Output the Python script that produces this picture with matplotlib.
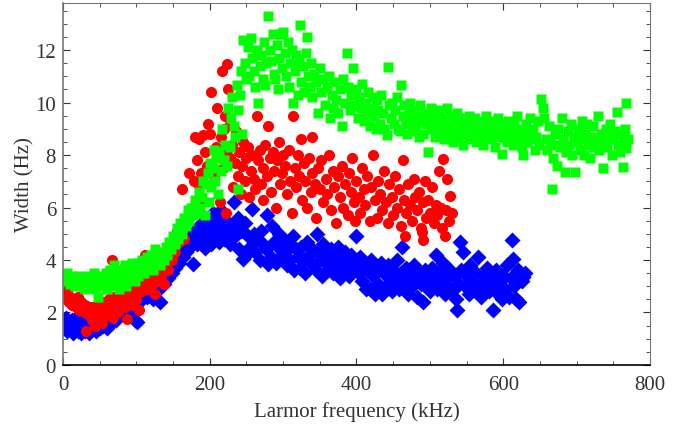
import numpy as np
import matplotlib.pyplot as plt
from matplotlib.ticker import MultipleLocator

# blue diamonds (x in kHz, width in Hz)
blue = [(2,1.5),(4,1.8),(5,1.3),(8,1.6),(10,1.4),(12,1.7),(14,1.2),(16,1.5),(18,1.8),(20,1.3),(22,1.6),
        (24,1.2),(26,1.5),(28,1.7),(30,1.3),(32,1.5),(35,1.2),(38,1.6),(40,1.4),(42,1.8),(45,1.3),(48,1.6),
        (50,1.4),(52,1.9),(55,1.5),(58,1.7),(60,1.4),
        (62,2.0),(65,1.6),(68,1.8),(70,2.1),(72,1.7),(75,2.2),(78,1.9),(80,2.0),(83,2.3),(85,1.9),(88,2.4),
        (90,2.1),(93,2.5),(95,2.2),(98,1.7),(101,1.64),(100,2.6),(103,2.4),(105,2.8),(108,2.5),(110,2.7),
        (113,3.0),(115,2.6),(118,2.9),(120,3.1),(122,2.5),(125,3.2),(128,2.8),(130,3.3),
        (132,2.4),(135,3.4),(138,3.1),(140,3.6),(143,3.3),(145,3.8),(148,3.5),(150,4.0),(153,3.7),(155,4.2),
        (158,3.9),(160,4.4),(163,4.1),(165,4.6),(168,4.3),(170,4.8),(173,4.5),(177,3.85),(178,4.9),(180,5.1),
        (183,4.6),(185,5.3),(188,4.8),(190,5.4),(193,4.46),(195,5.0),(198,5.6),(200,5.2),
        (202,4.6),(205,5.8),(208,5.0),(210,5.5),(212,4.7),(215,5.9),(218,5.2),(220,4.8),(222,5.5),(225,5.0),
        (228,4.6),(230,5.3),(233,6.2),(235,4.9),(238,5.6),(240,4.4),(242,5.1),(245,4.05),(248,5.4),(250,4.2),
        (252,4.9),(255,4.5),(258,5.95),(260,5.0),(262,4.3),(265,4.8),(268,4.0),(270,5.1),(272,4.6),(278,5.7),
        (276,4.4),(280,3.85),(283,4.1),(285,5.3),(288,4.7),(290,3.9),(293,4.5),(295,5.0),(298,4.2),(300,4.8),
        (302,4.3),(305,3.8),(308,4.6),(310,4.0),(313,4.9),(315,3.6),(318,4.4),(320,4.1),(323,3.7),(325,4.5),
        (328,4.0),(330,3.5),(333,4.7),(335,4.2),(338,3.9),(340,4.4),(346,5.0),(345,3.6),(348,4.3),(350,4.0),
        (353,3.4),(355,4.6),(358,3.9),(360,4.2),(363,3.7),(365,4.4),(368,3.5),(370,4.1),(373,3.8),(375,4.5),
        (378,3.3),(380,4.0),(383,3.6),(385,4.3),(388,3.9),(390,3.4),(393,4.2),(395,3.7),(400,4.9),(398,3.8),
        (403,3.5),(405,4.1),(408,3.2),(410,3.8),(413,2.9),(415,3.6),(418,2.9),(420,4.0),(423,3.4),(425,2.7),
        (428,3.7),(430,3.1),(433,3.9),(435,2.7),(438,3.5),(440,3.0),(443,3.8),(445,3.3),(448,2.8),(450,3.6),
        (453,3.2),(455,4.0),(458,2.9),(460,3.5),(462,4.5),(465,3.1),(468,3.7),(470,2.7),(473,3.4),(475,3.0),
        (478,3.8),(480,3.2),(483,2.6),(485,3.5),(488,3.1),(490,2.4),(493,3.6),(495,3.0),(498,3.4),(500,2.8),
        (503,3.7),(505,3.2),(508,4.2),(510,2.9),(513,3.5),(515,3.1),(518,3.9),(520,2.7),(523,3.3),(525,3.0),
        (528,3.6),(530,2.8),(533,3.4),(535,2.5),(537,2.1),(540,3.1),(541,4.7),(543,3.6),(545,4.3),(548,3.0),
        (550,3.4),(553,2.7),(555,3.8),(558,3.2),(560,2.9),(563,3.5),(565,4.1),(568,3.0),(570,2.6),(573,3.4),
        (575,3.1),(578,3.7),(580,2.8),(583,3.3),(586,2.1),(588,3.0),(590,3.6),(593,2.7),(595,3.2),(598,2.5),
        (600,3.4),(603,2.9),(605,3.8),(608,2.6),(610,3.3),(612,4.75),(614,4.05),(615,3.0),(618,2.5),(620,3.6),
        (622,2.4),(625,3.2),(627,3.35),(630,3.5)]

# red circles
red = [(2,2.7),(4,2.5),(6,2.8),(8,2.4),(10,2.6),(12,2.3),(15,2.5),(18,2.2),(20,2.6),(22,2.1),(25,2.4),
       (28,2.0),(30,2.3),(32,1.3),(35,1.9),(38,2.2),(40,1.7),(42,2.0),(44,1.5),(46,2.3),(48,1.8),(50,2.1),
       (53,1.6),(55,2.4),(58,2.0),(60,1.9),(62,2.5),(65,2.2),(67,4.0),(68,1.8),(70,2.6),(72,2.3),(75,2.0),
       (78,2.7),(80,2.4),(83,3.7),(85,2.2),(87,1.75),(88,2.8),(90,2.5),(93,2.9),(95,2.3),(98,2.7),(100,2.5),
       (103,2.1),(105,3.0),(108,2.8),(110,3.2),(112,4.2),(115,2.9),(118,3.3),(120,3.0),(123,3.5),(125,2.7),
       (128,3.2),(130,3.6),(133,3.4),(135,3.8),(138,3.1),(140,3.9),(143,3.6),(145,4.2),(148,4.0),(150,4.5),
       (153,4.3),(155,5.1),(158,4.7),(160,5.0),(162,6.7),(165,4.8),(167,5.6),(170,5.5),(172,7.3),(174,5.8),
       (176,6.0),(178,7.0),(180,8.7),(182,7.8),(184,6.9),(186,8.6),(188,7.3),(190,6.3),(191,8.75),(194,8.1),
       (196,7.6),(198,9.2),(200,8.8),(202,10.4),(206,7.2),(208,8.3),(210,9.8),(212,8.0),(214,6.2),(217,11.2),
       (216,8.7),(218,7.5),(220,9.0),(221,9.5),(222,5.8),(224,11.46),(225,10.5),(224,8.2),(227,9.2),(228,7.9),
       (230,8.4),(232,6.8),(234,7.7),(236,8.9),(238,7.2),(240,8.1),(242,6.5),(244,7.6),(246,8.5),(248,7.0),
       (250,7.9),(252,8.3),(254,6.4),(256,7.4),(258,8.0),(260,7.1),(262,6.7),(264,9.5),(266,7.8),(268,8.2),
       (270,6.9),(272,7.5),(273,6.3),(275,8.4),(278,7.2),(280,9.1),(282,7.9),(284,6.6),(286,8.1),(288,7.4),
       (290,6.0),(292,7.8),(294,8.5),(296,6.9),(298,7.3),(300,8.0),(302,7.6),(305,6.5),(308,8.2),(310,7.0),
       (312,5.8),(314,9.5),(316,7.5),(318,6.8),(320,8.0),(322,7.2),(324,8.6),(326,6.3),(328,7.7),(330,7.0),
       (332,6.0),(335,7.9),(338,6.6),(339,8.7),(340,7.3),(343,6.9),(345,5.6),(348,7.5),(350,6.7),(352,7.8),
       (355,6.2),(358,7.1),(360,6.5),(362,8.0),(365,5.9),(368,7.4),(370,6.8),(372,5.4),(375,7.2),(378,6.4),
       (380,7.6),(382,6.0),(385,6.9),(388,5.7),(390,7.3),(392,6.6),(394,7.9),(396,6.2),(398,5.5),(400,7.0),
       (403,6.4),(405,5.8),(408,7.5),(410,6.7),(412,6.1),(415,7.2),(418,5.5),(420,6.8),(423,8.0),(425,6.3),
       (428,5.6),(430,7.0),(432,6.5),(435,5.9),(438,7.4),(440,6.2),(443,5.4),(445,6.9),(448,6.4),(450,5.7),
       (452,7.2),(455,6.0),(458,6.7),(460,5.3),(463,7.8),(465,6.3),(466,4.9),(468,5.8),(470,6.9),(473,6.1),
       (475,5.5),(478,7.1),(480,6.4),(483,5.9),(485,6.6),(488,5.2),(489,5.05),(490,6.2),(491,4.75),(493,7.0),
       (495,5.6),(498,6.3),(500,5.8),(503,6.8),(505,5.4),(508,6.1),(510,5.7),(512,7.4),(515,6.0),(516,5.2),
       (518,7.85),(520,4.9),(522,5.9),(524,7.1),(526,5.5),(527,6.45),(530,5.8)]

# green squares
green = [(2,3.4),(4,3.2),(6,3.5),(8,3.3),(10,3.1),(12,3.4),(14,3.2),(16,3.0),(18,3.3),(20,3.1),(22,3.4),
         (24,3.0),(26,3.2),(28,3.3),(30,2.9),(32,3.1),(34,3.4),(36,3.2),(38,3.0),(40,3.3),(42,3.5),(44,2.9),
         (46,3.2),(48,2.6),(50,3.1),(52,3.4),(54,3.0),(56,3.3),(58,3.5),(60,2.9),(62,3.2),(64,3.6),(66,3.0),
         (68,3.4),(70,3.8),(72,3.1),(74,3.5),(76,2.9),(78,3.3),(80,3.6),(82,3.2),(84,3.8),(86,3.0),(88,3.4),
         (90,3.7),(92,3.3),(94,3.9),(96,3.5),(98,3.2),(100,3.7),
         (102,3.4),(104,3.9),(106,3.6),(108,4.0),(110,3.5),(112,3.8),(114,4.1),(116,3.7),(118,3.9),(120,4.2),
         (122,3.6),(125,4.4),(127,3.9),(130,4.1),(132,3.8),(135,4.3),(137,4.0),(140,4.5),(142,4.2),(145,4.7),
         (147,4.4),(150,4.9),(152,4.6),(155,5.2),(157,4.8),(160,5.4),(162,5.0),(165,5.6),(167,5.3),(170,5.9),
         (172,5.5),(175,6.0),(177,5.7),(180,6.3),(182,5.8),(185,6.6),(187,6.0),(190,6.4),(191,7.0),(193,5.7),
         (195,6.9),(197,7.3),(199,6.2),(200,7.7),(202,6.8),
         (204,7.5),(206,8.2),(207,7.0),(209,7.9),(211,6.5),(213,8.1),(215,7.4),(217,9.0),(219,7.8),(221,8.4),
         (223,7.6),(225,9.8),(227,8.3),(229,9.4),(231,10.2),(233,9.1),(235,8.7),(237,10.65),(238,6.7),(239,9.7),
         (241,10.3),(242,11.2),(244,8.8),(246,12.4),(248,11.5),(250,10.9),(252,12.1),(254,11.0),(256,12.45),
         (258,11.7),(260,11.2),(262,10.6),(264,12.0),(266,10.0),(268,11.4),(270,11.8),(272,10.9),(274,12.3),
         (275,10.65),(277,11.5),(280,13.3),(282,12.0),(284,11.6),(286,12.6),(288,11.1),(289,10.9),(291,12.2),
         (293,10.5),(295,11.7),(297,12.6),(299,11.3),(300,12.7),
         (302,11.9),(304,11.0),(306,12.3),(308,10.6),(310,11.5),(312,12.0),(314,10.0),(316,11.2),(318,11.8),
         (320,10.3),(322,11.6),(323,12.95),(325,10.8),(327,11.4),(329,10.4),(331,11.9),(332,12.5),(334,11.0),
         (336,10.6),(338,11.5),(340,10.2),(342,11.1),(345,10.8),(347,9.6),(350,11.3),(352,10.4),(355,10.9),
         (357,9.9),(360,10.6),(362,11.0),(364,9.4),(366,10.3),(368,9.8),(370,10.8),(372,10.1),(375,9.6),
         (377,10.5),(380,9.1),(382,10.9),(385,10.0),(387,11.9),(389,10.6),(391,9.7),(393,10.3),(395,11.3),
         (397,9.9),(400,10.5),
         (402,9.4),(404,10.2),(406,9.8),(408,10.7),(410,9.3),(412,10.0),(414,9.6),(416,10.4),(418,9.1),
         (420,9.8),(422,10.2),(424,9.5),(426,9.0),(428,10.1),(430,9.7),(432,9.2),(434,10.3),(436,9.6),(438,9.0),
         (441,8.75),(443,11.35),(445,9.9),(447,9.4),(449,10.0),(451,9.2),(453,9.7),(455,10.2),(457,9.0),
         (459,8.9),(461,10.65),(463,9.5),(465,9.9),(467,9.2),(469,8.8),(471,9.6),(473,10.0),(475,9.3),(477,8.9),
         (479,9.7),(481,9.1),(483,9.5),(485,8.7),(487,9.9),(489,9.3),(491,8.8),(493,9.6),(495,9.2),(497,8.1),
         (499,9.4),
         (501,9.8),(503,9.0),(505,9.5),(507,8.7),(509,9.2),(511,9.7),(513,8.9),(515,9.4),(517,9.0),(519,8.6),
         (521,9.3),(523,9.8),(525,8.8),(527,9.1),(529,9.5),(531,8.5),(533,9.2),(535,8.9),(537,9.6),(539,8.7),
         (541,9.1),(543,9.4),(545,8.4),(547,9.0),(549,9.3),(551,8.8),(553,9.5),(555,8.6),(557,9.1),(559,8.9),
         (561,9.4),(563,8.5),(565,9.0),(567,9.3),(569,8.7),(571,9.2),(573,8.4),(575,9.0),(577,9.5),(579,8.8),
         (581,9.1),(583,8.6),(585,9.3),(587,8.9),(589,8.3),(591,9.0),(593,9.4),(595,8.7),(597,9.2),(598,8.05),
         (601,8.8),(603,9.1),(605,8.5),(607,9.3),(609,8.7),(611,9.0),(613,8.4),(615,9.2),(617,8.8),(619,9.5),
         (621,8.6),(623,9.0),(625,8.3),(627,8.0),(629,8.9),(631,9.2),(633,8.5),(635,8.8),(637,9.4),(639,8.6),
         (641,9.0),(643,8.2),(645,8.7),(647,9.3),(649,8.4),(652,10.15),(654,9.8),(656,9.4),(658,8.6),(660,8.2),
         (662,9.1),(664,8.5),(666,6.7),(668,7.9),(670,8.8),(672,8.4),(673,7.6),(675,9.0),(677,8.3),(680,9.4),
         (682,8.6),(684,7.35),(686,8.1),(688,8.9),(690,8.4),(692,9.2),(694,8.0),(696,8.7),(698,7.35),(700,8.5),
         (702,9.0),(704,8.2),(706,8.6),(708,9.3),(710,8.0),(712,8.8),(714,9.2),(716,8.4),(718,7.9),(720,8.7),
         (722,9.1),(724,8.3),(726,8.6),(729,9.5),(731,8.2),(733,8.8),(736,7.5),(738,8.5),(740,9.0),(742,8.3),
         (744,8.7),(746,9.2),(748,8.0),(750,8.6),(752,8.9),(755,9.65),(757,8.4),(759,8.1),(761,8.8),(763,7.55),
         (765,8.5),(766,9.0),(768,10.0),(768,8.25),(770,8.6)]

plt.rcParams['font.family'] = ['Liberation Serif', 'DejaVu Serif']

fig = plt.figure(figsize=(6.82, 4.27), dpi=100)
ax = fig.add_axes([0.0924, 0.143, 0.8606, 0.848])

bx, by = np.array(blue).T
rx, ry = np.array(red).T
gx, gy = np.array(green).T
ax.plot(bx, by, 'D', color=(0, 0, 1), ms=8.5, mec='none')
ax.plot(rx, ry, 'o', color=(1, 0, 0), ms=8, mec='none')
ax.plot(gx, gy, 's', color=(0, 1, 0), ms=7.3, mec='none')

ax.set_xlim(0, 800)
ax.set_ylim(0, 13.8)
ax.xaxis.set_major_locator(MultipleLocator(200))
ax.xaxis.set_minor_locator(MultipleLocator(50))
ax.yaxis.set_major_locator(MultipleLocator(2))
ax.yaxis.set_minor_locator(MultipleLocator(0.5))
ax.tick_params(which='both', direction='in', top=True, right=True,
               labelsize=15, labelcolor='#333333', colors='#333333')
ax.tick_params(which='major', length=5, width=0.8)
ax.tick_params(axis='x', which='major', pad=7)
ax.tick_params(axis='y', which='major', pad=5)
ax.tick_params(which='minor', length=3, width=0.6)
for s in ax.spines.values():
    s.set_color('#777777')
ax.spines['bottom'].set_color('black')
ax.spines['bottom'].set_linewidth(1.2)
ax.spines['left'].set_linewidth(1.2)

ax.set_xlabel('Larmor frequency (kHz)', fontsize=15, color='#333333')
ax.set_ylabel('Width (Hz)', fontsize=15, color='#333333')
ax.xaxis.set_label_coords(0.5, -0.1)
ax.yaxis.set_label_coords(-0.048, 0.5)

fig.savefig('out.png', dpi=100)
